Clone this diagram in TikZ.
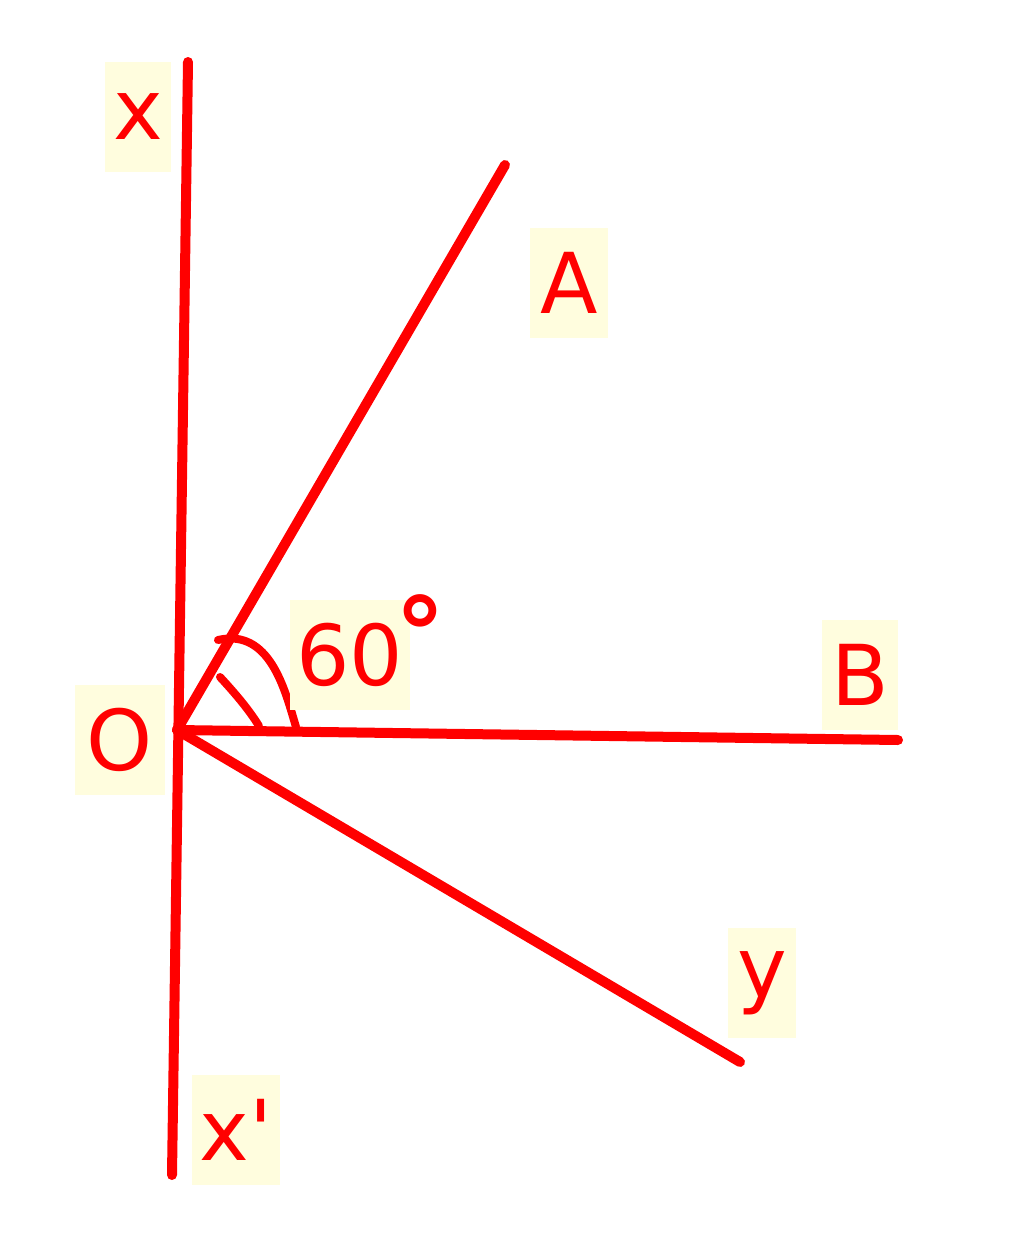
\documentclass[tikz,border=0pt]{standalone}
\usepackage{fontspec}
\setmainfont{DejaVu Sans}
\definecolor{lred}{RGB}{255,0,0}
\definecolor{lbg}{RGB}{255,253,222}
\begin{document}
\begin{tikzpicture}[x=0.5pt,y=-0.5pt,
  ray/.style={draw=lred,line width=5pt,line cap=round},
  anglemark/.style={draw=lred,line width=4pt,line cap=round},
  lbl/.style={fill=lbg,text=lred,inner sep=0pt,font=\fontsize{42}{50}\selectfont,minimum height=55pt,anchor=center}]
\useasboundingbox (0,0) rectangle (1024,1242);
\coordinate (xt) at (188,62);
\coordinate (xb) at (172,1175);
\coordinate (O) at (177,730);
\coordinate (A) at (505,165);
\coordinate (B) at (898,740);
\coordinate (Y) at (740,1062);
\draw[ray] (xt) -- (xb);
\draw[ray] (O) -- (A);
\draw[ray] (O) -- (B);
\draw[ray] (O) -- (Y);
% angle marks
\coordinate (m1) at (218,640);
\coordinate (m2) at (296,727);
\draw[anglemark] (m1) .. controls (270,628) and (285,690) .. (m2);
\coordinate (m3) at (220,677);
\coordinate (m4) at (259,726);
\draw[anglemark] (m3) .. controls (232,690) and (248,708) .. (m4);
% labels
\node[lbl,minimum width=33pt] (lx) at (138,117) {x};
\node[lbl,minimum width=39pt] (lA) at (569,283) {A};
\node[lbl,minimum width=60pt] (l60) at (350,655) {60\rlap{\kern-4pt\smash{\raisebox{8pt}{\bfseries\fontsize{50}{60}\selectfont °}}}};
\node[lbl,minimum width=38pt] (lB) at (860,675) {B};
\node[lbl,minimum width=45pt] (lO) at (120,740) {O};
\node[lbl,minimum width=34pt] (ly) at (762,983) {y};
\node[lbl,minimum width=44pt] (lxp) at (236,1130) {x\textquotesingle};
\end{tikzpicture}
\end{document}
